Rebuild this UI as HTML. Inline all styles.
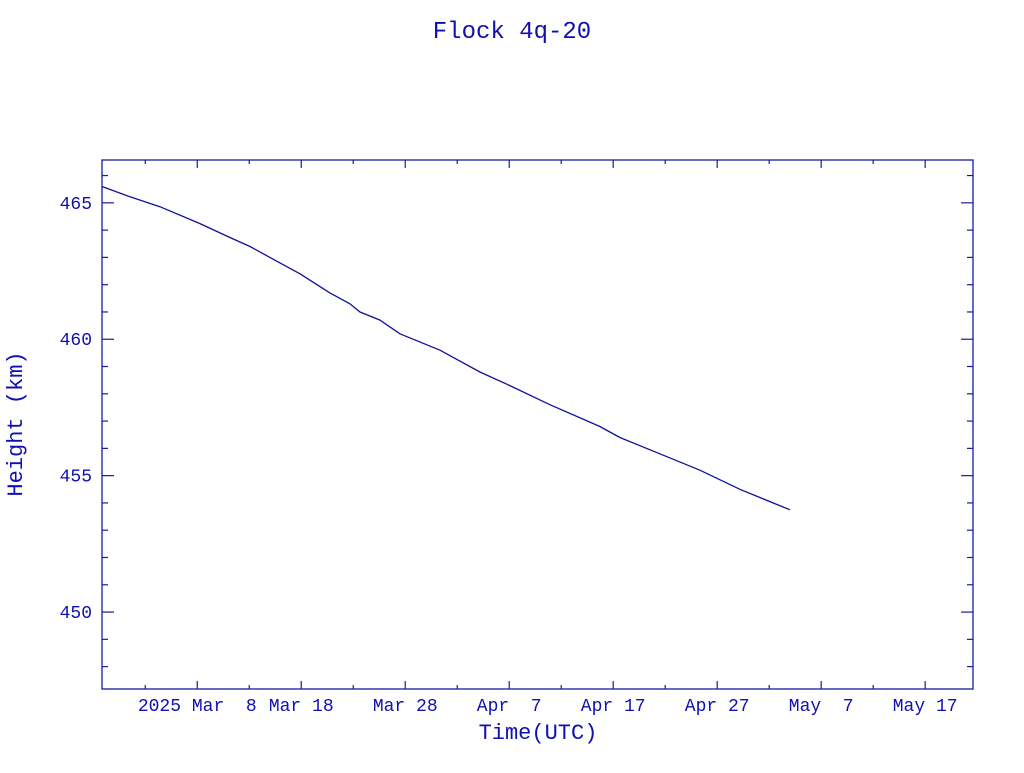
<!DOCTYPE html>
<html><head><meta charset="utf-8"><style>
body{margin:0;background:#fff;width:1024px;height:768px;overflow:hidden}
svg text{fill:#1010b0;white-space:pre}
</style></head><body>
<svg width="1024" height="768" id="c">
<text x="512" y="38" text-anchor="middle" font-family="Liberation Mono, monospace" font-size="24">Flock 4q-20</text>
<text x="538" y="739" text-anchor="middle" font-family="Liberation Mono, monospace" font-size="22">Time(UTC)</text>
<text transform="translate(22,424) rotate(-90)" text-anchor="middle" font-family="Liberation Mono, monospace" font-size="22">Height (km)</text>
<rect x="102" y="160" width="871" height="529" fill="none" stroke="#1a1aa0" stroke-width="1.3"/>
<g id="ax"></g>
<path id="ln" fill="none" stroke="#10109a" stroke-width="1.3"/>
</svg>
<script>
// days since 2025-03-01 (UTC)
const days=[-2.16,0.53,3.41,7.26,10.14,12.07,13.99,16.88,19.76,21.68,22.65,24.57,26.49,30.34,34.18,37.07,40.91,45.72,47.64,51.49,55.34,59.18,61.11,63.99];
const heights=[465.6,465.22,464.86,464.24,463.73,463.4,463.0,462.4,461.7,461.3,461.0,460.7,460.2,459.6,458.8,458.3,457.6,456.8,456.4,455.8,455.2,454.5,454.2,453.75];
const xTickDays=[7,17,27,37,47,57,67,77];
const xTickLabels=["2025 Mar  8","Mar 18","Mar 28","Apr  7","Apr 17","Apr 27","May  7","May 17"];
const yTicks=[450,455,460,465];
const L=102,R=973,T=160,B=689;
const d0=-2.16,d1=81.6,y0=447.18,y1=466.57;
const X=d=>L+(d-d0)/(d1-d0)*(R-L);
const Y=v=>B-(v-y0)/(y1-y0)*(B-T);
const NS="http://www.w3.org/2000/svg";
const ax=document.getElementById('ax');
function ln(x1,y1,x2,y2,name){const e=document.createElementNS(NS,'line');e.setAttribute('x1',x1);e.setAttribute('y1',y1);e.setAttribute('x2',x2);e.setAttribute('y2',y2);e.setAttribute('stroke','#1a1aa0');e.setAttribute('stroke-width','1.2');


ax.appendChild(e);}
function tx(x,y,s,anchor,name){const e=document.createElementNS(NS,'text');e.setAttribute('x',x);e.setAttribute('y',y);e.setAttribute('text-anchor',anchor);e.setAttribute('font-family','Liberation Mono, monospace');e.setAttribute('font-size','18');e.setAttribute('xml:space','preserve');e.textContent=s;


ax.appendChild(e);}
for(let d=-3;d<=d1;d+=5){if(d<d0)continue;const x=X(d);const maj=xTickDays.includes(d);const h=maj?8:4;ln(x,B,x,B-h,'x-tick');ln(x,T,x,T+h,'x-tick');}
xTickDays.forEach((d,i)=>tx(X(d),711,xTickLabels[i],'middle','x-tick-label'));
for(let v=448;v<=466;v++){const y=Y(v);const maj=yTicks.includes(v);const w=maj?12:6;ln(L,y,L+w,y,'y-tick');ln(R,y,R-w,y,'y-tick');}
yTicks.forEach(v=>tx(92,Y(v)+6,String(v),'end','y-tick-label'));
document.getElementById('ln').setAttribute('d',days.map((d,i)=>(i?'L':'M')+X(d).toFixed(1)+' '+Y(heights[i]).toFixed(1)).join(' '));
</script>
</body></html>
